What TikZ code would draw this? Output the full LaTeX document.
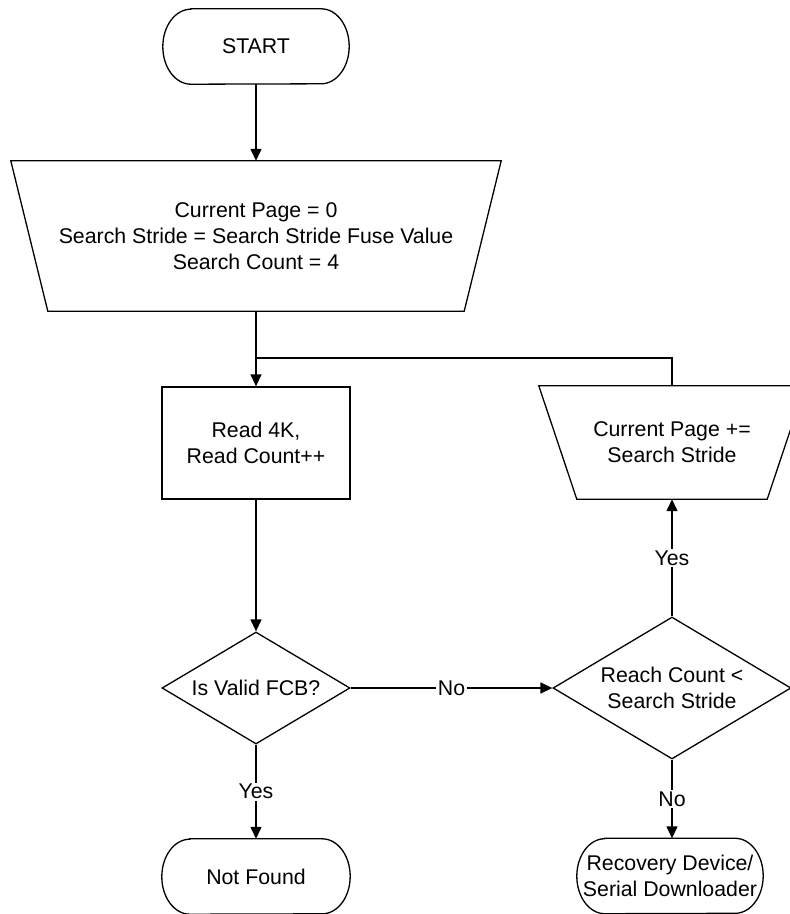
\documentclass[tikz,border=0pt]{standalone}
\usepackage{fontspec}
\setmainfont{Liberation Sans}
\usetikzlibrary{arrows.meta,shapes.geometric}
\tikzset{
  txt/.style={font=\fontsize{21.3}{25.8}\selectfont, align=center, inner sep=0pt},
  line/.style={draw=black, line width=1.3pt},
  arr/.style={line, -{Triangle[length=12pt,width=11pt]}},
  lbl/.style={txt, fill=white, inner sep=1.5pt},
  termbox/.style={txt, minimum width=188pt, minimum height=75pt},
  procbox/.style={txt, line, minimum width=188pt, minimum height=112pt},
  decision/.style={txt, line, diamond, inner sep=0pt},
}
\newcommand\termoutline[1]{%
  \draw[line] ([xshift=28pt]#1.north west) -- ([xshift=-28pt]#1.north east)
    arc[start angle=90, end angle=-90, x radius=28pt, y radius=37.5pt]
    -- ([xshift=28pt]#1.south west)
    arc[start angle=270, end angle=90, x radius=28pt, y radius=37.5pt] -- cycle;}
\begin{document}
\begin{tikzpicture}[x=1pt,y=-1pt]
\clip (0,0) rectangle (790,914);
\fill[white] (0,0) rectangle (790,914);

% nodes
\node[termbox, minimum width=186pt] (start) at (256,46.5) {START};
\termoutline{start}

\node[txt, minimum width=490pt, minimum height=150pt] (init) at (256,236)
  {Current Page = 0\\Search Stride = Search Stride Fuse Value\\Search Count = 4};
\draw[line] (init.north west) -- (init.north east)
  -- ([xshift=-37pt]init.south east) -- ([xshift=37pt]init.south west) -- cycle;

\node[procbox] (read) at (256,443) {Read 4K,\\Read Count++};

\node[txt, minimum width=266pt, minimum height=113pt] (inc) at (672,442.5)
  {Current Page +=\\Search Stride};
\draw[line] (inc.north west) -- (inc.north east)
  -- ([xshift=-38pt]inc.south east) -- ([xshift=38pt]inc.south west) -- cycle;

\node[decision, minimum width=188pt, minimum height=112pt, aspect=1.68] (valid) at (256,688) {Is Valid FCB?};
\node[decision, minimum width=238pt, minimum height=142pt, aspect=1.68] (reach) at (672,688) {Reach Count <\\Search Stride};

\node[termbox] (nf) at (256,876.5) {Not Found};
\termoutline{nf}
\node[termbox, minimum width=186pt] (rec) at (670,876) {Recovery Device/\\Serial Downloader};
\termoutline{rec}

\coordinate (join) at (256,358);

% connectors
\draw[arr] (start.south) -- (init.north);
\draw[arr] (init.south) -- (read.north);
\draw[line] (inc.north) |- (join);
\draw[arr] (read.south) -- (valid.north);
\draw[arr] (valid.east) -- node[lbl] {No} (reach.west);
\draw[arr] (valid.south) -- node[lbl] {Yes} (nf.north);
\draw[arr] (reach.north) -- node[lbl] {Yes} (inc.south);
\draw[arr] (reach.south) -- node[lbl] {No} (reach.south |- rec.north);
\end{tikzpicture}
\end{document}
